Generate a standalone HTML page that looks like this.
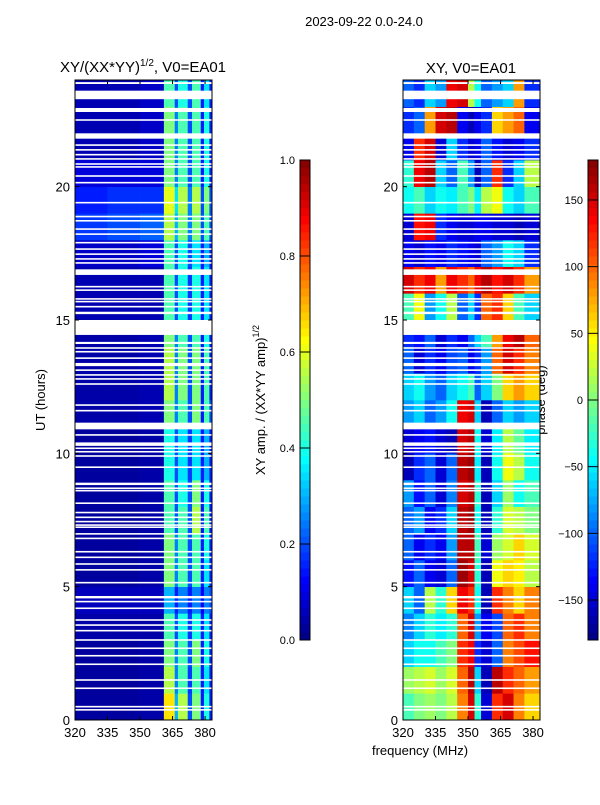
<!DOCTYPE html>
<html><head><meta charset="utf-8"><style>
body{margin:0;background:#fff;width:600px;height:800px;overflow:hidden;font-family:"Liberation Sans","DejaVu Sans",sans-serif}
svg text{font-family:"Liberation Sans","DejaVu Sans",sans-serif;fill:#000}
</style></head><body>
<svg id="fig" width="600" height="800" xmlns="http://www.w3.org/2000/svg">
<text x="364" y="26" font-size="13" text-anchor="middle">2023-09-22 0.0-24.0</text>
<text x="143" y="72" font-size="15" text-anchor="middle">XY/(XX*YY)<tspan font-size="10" dy="-6">1/2</tspan><tspan dy="6">, V0=EA01</tspan></text>
<text x="471" y="73" font-size="15" text-anchor="middle">XY, V0=EA01</text>
<text transform="translate(45,400) rotate(-90)" font-size="13" text-anchor="middle">UT (hours)</text>
<text x="420" y="755" font-size="13" text-anchor="middle">frequency (MHz)</text>
<text transform="translate(265,400) rotate(-90)" font-size="13" text-anchor="middle">XY amp. / (XX*YY amp)<tspan font-size="9" dy="-6">1/2</tspan></text>
<text transform="translate(545,400) rotate(-90)" font-size="13" text-anchor="middle">phase (deg)</text>
<g id="left"></g>
<g id="right"></g>
<g id="axes"></g>
</svg>
<script>
// ---- data ----
const hourRows = [0,1,2,3,4,5,6,7,8,9,10,11,12,13,14,15,16,17,18,19,20,21,22,23];
const ampFreqEdges = [320,335,350,361,366,367.5,372,374,378,379.5,382,383.7];
const ampValues = [
[0.03,0.03,0.04,0.65,0.3,0.55,0.2,0.5,0.15,0.4,0.15],
[0.03,0.03,0.04,0.55,0.25,0.45,0.18,0.45,0.15,0.35,0.15],
[0.03,0.03,0.04,0.5,0.25,0.45,0.2,0.5,0.15,0.4,0.15],
[0.04,0.04,0.04,0.45,0.2,0.4,0.18,0.4,0.15,0.35,0.15],
[0.06,0.06,0.06,0.3,0.15,0.25,0.15,0.25,0.12,0.25,0.2],
[0.03,0.03,0.04,0.5,0.25,0.45,0.2,0.45,0.15,0.35,0.15],
[0.03,0.03,0.04,0.5,0.25,0.45,0.2,0.45,0.15,0.4,0.15],
[0.03,0.03,0.04,0.45,0.2,0.45,0.2,0.55,0.15,0.45,0.15],
[0.03,0.03,0.04,0.45,0.2,0.4,0.2,0.5,0.15,0.4,0.15],
[0.03,0.03,0.04,0.4,0.2,0.35,0.18,0.35,0.15,0.3,0.15],
[0.03,0.03,0.04,0.4,0.2,0.35,0.18,0.35,0.15,0.3,0.15],
[0.04,0.04,0.05,0.5,0.25,0.45,0.2,0.5,0.15,0.45,0.2],
[0.04,0.04,0.05,0.55,0.25,0.5,0.2,0.5,0.15,0.45,0.15],
[0.04,0.04,0.05,0.55,0.25,0.5,0.2,0.5,0.15,0.45,0.15],
[0.04,0.04,0.05,0.5,0.25,0.45,0.2,0.45,0.15,0.4,0.15],
[0.05,0.05,0.05,0.45,0.2,0.4,0.18,0.4,0.15,0.35,0.15],
[0.05,0.05,0.05,0.45,0.2,0.4,0.18,0.4,0.15,0.35,0.15],
[0.07,0.07,0.09,0.45,0.2,0.4,0.2,0.35,0.15,0.3,0.15],
[0.18,0.2,0.22,0.55,0.3,0.5,0.25,0.5,0.2,0.45,0.2],
[0.15,0.17,0.17,0.6,0.35,0.55,0.25,0.55,0.2,0.5,0.2],
[0.09,0.09,0.09,0.5,0.25,0.45,0.2,0.45,0.15,0.4,0.15],
[0.05,0.05,0.07,0.5,0.25,0.45,0.2,0.45,0.15,0.4,0.15],
[0.05,0.05,0.07,0.5,0.25,0.45,0.2,0.45,0.15,0.4,0.15],
[0.05,0.05,0.07,0.45,0.2,0.4,0.2,0.45,0.15,0.35,0.15]
];
const phaseFreqEdges = [320,325,330,335,340,345,350,353,356,361,366,371,376,383.7];
const phaseValues = [
[-20,0,10,0,20,90,150,-30,-150,120,150,90,60],
[10,20,30,10,30,100,160,-60,-160,160,120,100,80],
[-60,-40,-40,-20,0,120,140,-120,-150,-100,90,110,130],
[-90,-60,-30,-50,-30,100,150,-80,-140,-110,100,120,90],
[-60,-100,20,-30,60,140,120,-40,-160,120,90,60,90],
[-130,-100,-140,-150,-100,170,150,-30,-160,40,60,50,20],
[-100,-140,-120,-140,-80,160,160,-20,-150,10,30,60,30],
[-100,-80,-140,-120,-60,160,170,-40,-160,-30,30,20,0],
[-80,-130,-100,-150,-90,150,160,-30,-160,-60,10,-40,-20],
[-160,-120,-100,-150,-100,160,170,-50,-160,-40,40,20,-40],
[-150,-140,-130,-150,-160,150,160,-40,-150,-50,20,-10,-50],
[-80,-60,-100,-80,-40,140,150,-60,-160,-100,-60,-80,-60],
[-60,-40,-80,-100,-60,-40,-20,-100,-60,0,60,80,60],
[-100,-150,-120,-140,-110,-100,-140,-120,-80,100,150,120,90],
[-120,-130,-100,-150,-120,-140,-100,-60,-20,80,140,160,100],
[-20,40,-80,-40,20,-100,-60,-120,100,120,60,-20,-60],
[150,120,140,80,140,120,100,140,160,130,150,120,80],
[-140,-150,-130,-140,-120,-130,-140,-150,-100,-80,-40,-60,-120],
[-150,130,140,-120,-140,-150,-150,-140,-140,-150,-150,-160,-150],
[-40,-20,-60,-40,-50,-20,0,-50,20,40,-40,-60,-20],
[-30,140,160,-60,-100,-20,-80,-160,-100,120,-120,-60,20],
[-140,120,150,-150,-60,-120,-150,-140,-100,-130,-150,-140,-120],
[-120,-100,80,150,160,-140,-160,-140,-120,60,80,100,-140],
[-100,-120,-60,-80,140,150,20,-40,-100,-80,-60,80,-120]
];
const gapStart = [23.85,23.28,22.8,22.47,21.8,21.53,21.35,21.17,21.01,20.82,20.71,20.37,20.12,19.37,18.85,18.69,18.38,18.19,17.87,17.63,17.44,17.26,17.11,16.69,16.22,16.09,15.76,15.66,15.47,15.22,14.44,14.1,13.92,13.78,13.54,13.27,13.09,12.91,12.76,12.57,11.78,11.57,10.9,10.66,10.28,10.16,10.03,9.87,9.45,8.81,8.66,8.57,8.1,7.75,7.57,7.41,7.28,7.2,6.95,6.78,6.28,6.07,5.82,5.6,5.12,4.56,4.41,4.16,3.72,3.53,3.32,2.97,2.66,2.38,2.06,1.47,1.16,0.47,0.35];
const gapEnd   = [23.92,23.6,22.95,22.53,22.0,21.59,21.41,21.23,21.07,20.88,20.77,20.43,20.18,19.43,18.91,18.75,18.44,18.25,17.93,17.69,17.5,17.32,17.17,16.9,16.28,16.15,15.82,15.72,15.53,15.31,15.0,14.18,13.98,13.84,13.6,13.39,13.15,12.97,12.82,12.63,11.84,11.63,11.15,10.72,10.41,10.22,10.09,9.93,9.51,8.9,8.72,8.63,8.16,7.81,7.63,7.47,7.34,7.26,7.01,6.84,6.34,6.13,5.88,5.66,5.18,4.65,4.47,4.22,3.78,3.59,3.38,3.03,2.72,2.44,2.12,1.53,1.22,0.53,0.41];
const xTicks = [320,335,350,365,380];
const yTicks = [0,5,10,15,20];
const ampTicks = [0.0,0.2,0.4,0.6,0.8,1.0];
const phaseTicks = [-150,-100,-50,0,50,100,150];

// ---- scales ----
const NS='http://www.w3.org/2000/svg';
const P1={x0:75,x1:212}, P2={x0:403,x1:540}, Y0=720, Y1=80;
const fmin=320,fmax=383.2;
function xs(P,f){return P.x0+(f-fmin)/(fmax-fmin)*(P.x1-P.x0);}
function ys(h){return Y0+(h/24)*(Y1-Y0);}
function jet(t){t=Math.max(0,Math.min(1,t));
 const c=x=>Math.round(255*Math.max(0,Math.min(1,x)));
 return 'rgb('+c(1.5-Math.abs(4*t-3))+','+c(1.5-Math.abs(4*t-2))+','+c(1.5-Math.abs(4*t-1))+')';}
function el(tag,at,parent){const e=document.createElementNS(NS,tag);for(const k in at)e.setAttribute(k,at[k]);parent.appendChild(e);return e;}

function drawHeat(g,P,edges,vals,norm){
 hourRows.forEach((h,r)=>{
  for(let c=0;c<edges.length-1;c++){
   const xa=xs(P,edges[c]), xb=Math.min(P.x1,xs(P,edges[c+1]));
   const ya=ys(h+1), yb=ys(h);
   const rc=el('rect',{x:xa,y:ya,width:xb-xa+0.3,height:yb-ya+0.3,fill:jet(norm(vals[r][c]))},g);
   
   
  }
 });
 gapStart.forEach((s,i)=>{
  const r=el('rect',{x:P.x0,y:ys(gapEnd[i]),width:P.x1-P.x0,height:ys(s)-ys(gapEnd[i]),fill:'#fff'},g);
  
  
 });
}
drawHeat(document.getElementById('left'),P1,ampFreqEdges,ampValues,v=>v);
drawHeat(document.getElementById('right'),P2,phaseFreqEdges,phaseValues,v=>(v+180)/360);

const ax=document.getElementById('axes');
[P1,P2].forEach((P,pi)=>{
 const fr=el('rect',{x:P.x0,y:Y1,width:P.x1-P.x0,height:Y0-Y1,fill:'none',stroke:'#000','stroke-width':1},ax);
 
 
 xTicks.forEach(t=>{const x=xs(P,t);
  el('line',{x1:x,x2:x,y1:Y0,y2:Y0-4,stroke:'#000'},ax);
  el('line',{x1:x,x2:x,y1:Y1,y2:Y1+4,stroke:'#000'},ax);
  const tx=el('text',{x:x,y:Y0+17,'font-size':13,'text-anchor':'middle'},ax);tx.textContent=t;
  
  
 });
 yTicks.forEach(t=>{const y=ys(t);
  el('line',{x1:P.x0,x2:P.x0+4,y1:y,y2:y,stroke:'#000'},ax);
  el('line',{x1:P.x1,x2:P.x1-4,y1:y,y2:y,stroke:'#000'},ax);
  const tx=el('text',{x:P.x0-5,y:y+5,'font-size':13,'text-anchor':'end'},ax);tx.textContent=t;
  
  
 });
});
function colorbar(x,ticks,vmin,vmax,name){
 const g=el('g',{},ax);
 
 
 const n=60,top=160,bot=640,w=10;
 for(let i=0;i<n;i++){el('rect',{x:x,y:bot-(i+1)*(bot-top)/n,width:w,height:(bot-top)/n+0.5,fill:jet((i+0.5)/n)},g);}
 el('rect',{x:x,y:top,width:w,height:bot-top,fill:'none',stroke:'#000'},g);
 ticks.forEach(t=>{const y=bot-(t-vmin)/(vmax-vmin)*(bot-top);
  el('line',{x1:x,x2:x+w,y1:y,y2:y,stroke:'#000'},g);
  const tx=el('text',{x:x-5,y:y+4,'font-size':11,'text-anchor':'end'},g);
  tx.textContent=(vmax===1?t.toFixed(1):String(t).replace('-','\u2212'));
  
  
 });
}
colorbar(300,ampTicks,0,1,'amp-colorbar');
colorbar(588,phaseTicks,-180,180,'phase-colorbar');
</script>
</body></html>
